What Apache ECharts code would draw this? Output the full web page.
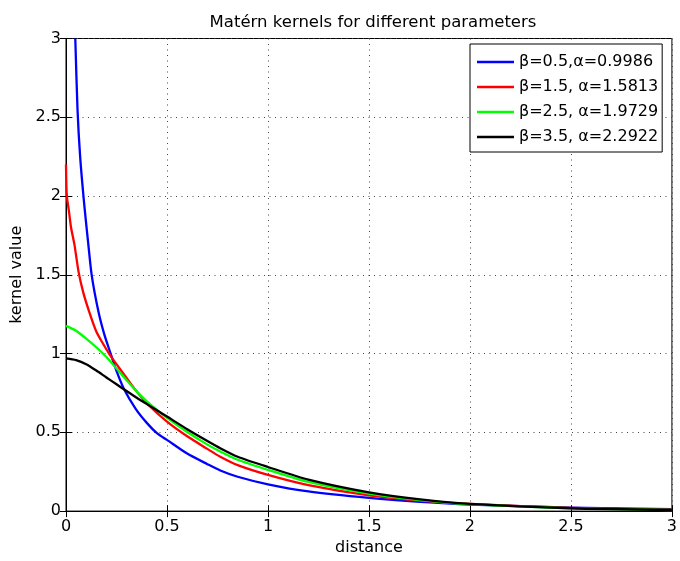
<!DOCTYPE html>
<html>
<head>
<meta charset="utf-8">
<script src="https://cdn.jsdelivr.net/npm/echarts@6/dist/echarts.min.js"></script>
<style>html,body{margin:0;padding:0;background:#fff}#c{width:680px;height:561px}</style>
</head>
<body>
<div id="c"></div>
<script>
var seriesNames = ['\u03b2=0.5,\u03b1=0.9986', '\u03b2=1.5, \u03b1=1.5813', '\u03b2=2.5, \u03b1=1.9729', '\u03b2=3.5, \u03b1=2.2922'];
var seriesColors = ['#0000ff', '#ff0000', '#00ff00', '#000000'];

var blueX = [0.046, 0.057, 0.07, 0.09, 0.11, 0.127, 0.16, 0.19, 0.221, 0.25, 0.287, 0.345, 0.4, 0.45, 0.5, 0.6, 0.7, 0.764, 0.85, 1.0, 1.2, 1.5, 1.754, 2.0, 2.5, 3.0];
var blueY = [3.0, 2.55, 2.25, 1.95, 1.7, 1.5, 1.27, 1.12, 1.0, 0.89, 0.775, 0.649, 0.56, 0.495, 0.452, 0.365, 0.298, 0.258, 0.218, 0.17, 0.125, 0.084, 0.059, 0.042, 0.022, 0.012];

var redX = [0, 0.002, 0.005, 0.015, 0.025, 0.042, 0.062, 0.085, 0.115, 0.15, 0.18, 0.213, 0.26, 0.3, 0.337, 0.411, 0.5, 0.6, 0.7, 0.764, 0.85, 1.0, 1.2, 1.5, 1.754, 2.0, 2.5, 3.0];
var redY = [2.2, 2.06, 1.99, 1.9, 1.8, 1.69, 1.52, 1.39, 1.265, 1.14, 1.07, 1.0, 0.915, 0.845, 0.78, 0.67, 0.568, 0.475, 0.395, 0.345, 0.292, 0.23, 0.165, 0.10, 0.067, 0.045, 0.02, 0.009];

var greenX = [0, 0.05, 0.1, 0.15, 0.2, 0.25, 0.3, 0.35, 0.4, 0.45, 0.5, 0.6, 0.7, 0.764, 0.85, 1.0, 1.2, 1.5, 1.754, 2.0, 2.5, 3.0];
var greenY = [1.176, 1.145, 1.095, 1.04, 0.978, 0.905, 0.83, 0.76, 0.697, 0.642, 0.592, 0.502, 0.422, 0.378, 0.326, 0.262, 0.185, 0.111, 0.07, 0.044, 0.018, 0.007];

var blackX = [0, 0.05, 0.1, 0.15, 0.2, 0.25, 0.3, 0.35, 0.4, 0.45, 0.5, 0.6, 0.7, 0.764, 0.85, 1.0, 1.2, 1.5, 1.754, 2.0, 2.5, 3.0];
var blackY = [0.969, 0.958, 0.932, 0.892, 0.848, 0.805, 0.762, 0.72, 0.68, 0.64, 0.60, 0.52, 0.445, 0.399, 0.345, 0.28, 0.2, 0.119, 0.074, 0.046, 0.018, 0.007];

var xTicks = ['0', '0.5', '1', '1.5', '2', '2.5', '3'];
var yTicks = ['0', '0.5', '1', '1.5', '2', '2.5', '3'];

function pairs(xs, ys) { return xs.map(function (x, i) { return [x, ys[i]]; }); }
var allData = [pairs(blueX, blueY), pairs(redX, redY), pairs(greenX, greenY), pairs(blackX, blackY)];

var font = '"DejaVu Sans", Verdana, sans-serif';
var chart = echarts.init(document.getElementById('c'));
chart.setOption({
  animation: false,
  backgroundColor: '#fff',
  title: {
    text: 'Mat\u00e9rn kernels for different parameters',
    left: 368, top: 9, textAlign: 'center',
    textStyle: { fontFamily: font, fontSize: 16.5, fontWeight: 'normal', color: '#000' }
  },
  grid: { left: 66, top: 38.5, width: 606, height: 478, show: true, borderColor: '#000', borderWidth: 1, backgroundColor: '#fff' },
  legend: {
    data: seriesNames,
    orient: 'vertical', left: 470, top: 44,
    backgroundColor: '#fff', borderColor: '#000', borderWidth: 1,
    padding: [9, 4, 6, 7],
    itemWidth: 37, itemHeight: 2.5, itemGap: 7,
    icon: 'rect',
    textStyle: { fontFamily: font, fontSize: 16, color: '#000', lineHeight: 18 }
  },
  xAxis: [{
    type: 'value', min: 0, max: 3, interval: 0.5,
    name: 'distance', nameLocation: 'middle', nameGap: 24,
    nameTextStyle: { fontFamily: font, fontSize: 16, color: '#000' },
    axisLine: { show: true, lineStyle: { color: '#000', width: 1 } },
    axisTick: { show: true, inside: true, length: 6, lineStyle: { color: '#000' } },
    axisLabel: { fontFamily: font, fontSize: 16, color: '#000', margin: 8, formatter: function (v) { return xTicks[Math.round(v * 2)]; } },
    splitLine: { show: true, lineStyle: { color: '#444', type: [1, 4.5], width: 1 } }
  }, {
    type: 'value', min: 0, max: 3, interval: 0.5, position: 'top',
    axisLine: { show: true, lineStyle: { color: '#000' } },
    axisTick: { show: true, inside: true, length: 6, lineStyle: { color: '#000' } },
    axisLabel: { show: false }, splitLine: { show: false }
  }],
  yAxis: [{
    type: 'value', min: 0, max: 3, interval: 0.5,
    name: 'kernel value', nameLocation: 'middle', nameGap: 38, nameRotate: 90,
    nameTextStyle: { fontFamily: font, fontSize: 16, color: '#000' },
    axisLine: { show: true, lineStyle: { color: '#000', width: 1 } },
    axisTick: { show: true, inside: true, length: 6, lineStyle: { color: '#000' } },
    axisLabel: { fontFamily: font, fontSize: 16, color: '#000', margin: 5, formatter: function (v) { return yTicks[Math.round(v * 2)]; } },
    splitLine: { show: true, lineStyle: { color: '#444', type: [1, 4.5], width: 1 } }
  }, {
    type: 'value', min: 0, max: 3, interval: 0.5, position: 'right',
    axisLine: { show: true, lineStyle: { color: '#000' } },
    axisTick: { show: true, inside: true, length: 6, lineStyle: { color: '#000' } },
    axisLabel: { show: false }, splitLine: { show: false }
  }],
  series: seriesNames.map(function (n, i) {
    return {
      name: n, type: 'line', data: allData[i], xAxisIndex: 0, yAxisIndex: 0,
      showSymbol: false, symbol: 'none', smooth: 0.25, clip: true,
      z: 2 + i,
      lineStyle: { color: seriesColors[i], width: 2.3, join: 'round' },
      itemStyle: { color: seriesColors[i] }
    };
  })
});
</script>
</body>
</html>
